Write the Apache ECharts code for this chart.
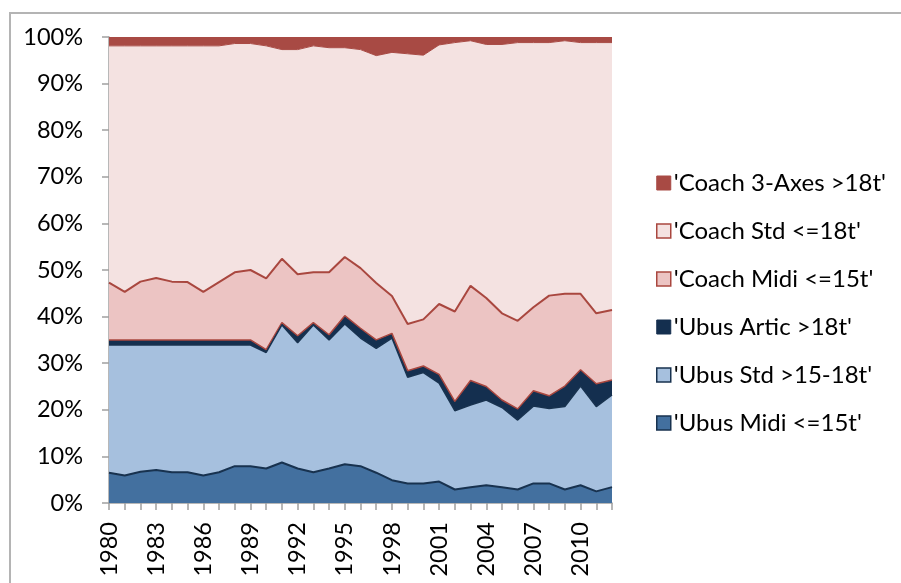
<!DOCTYPE html>
<html>
<head>
<meta charset="utf-8">
<script src="https://cdn.jsdelivr.net/npm/echarts@6/dist/echarts.min.js"></script>
<style>
  html, body { margin: 0; padding: 0; background: #fff; overflow: hidden; }
  #frame { position: absolute; left: 9px; top: 12px; width: 1000px; height: 700px;
           border-left: 2px solid #b4b4b4; border-top: 2px solid #b4b4b4; }
  #chart { position: absolute; left: 0; top: 0; width: 901px; height: 583px; }
</style>
</head>
<body>
<div id="frame"></div>
<div id="chart"></div>
<script>
  // years on the x axis
  var years = [];
  for (var y = 1980; y <= 2012; y++) years.push(String(y));

  // shares in percent
  var ubusMidi = [6.5, 5.9, 6.7, 7.1, 6.6, 6.6, 5.9, 6.6, 7.9, 7.9, 7.4, 8.7, 7.4, 6.6, 7.4, 8.3, 7.9,
    6.5, 4.9, 4.2, 4.2, 4.6, 2.9, 3.4, 3.8, 3.4, 2.9, 4.2, 4.2, 2.9, 3.8, 2.5, 3.4];
  var ubusStd = [27.4, 28.0, 27.2, 26.8, 27.3, 27.3, 28.0, 27.3, 26.0, 26.0, 24.9, 29.5, 27.0, 31.6, 27.6, 30.1, 27.5,
    26.7, 30.5, 22.8, 23.8, 21.1, 16.9, 17.6, 18.3, 17.1, 14.9, 16.6, 16.1, 17.8, 21.3, 18.2, 19.8];
  var ubusArtic = [1.1, 1.1, 1.1, 1.1, 1.1, 1.1, 1.1, 1.1, 1.1, 1.1, 0.6, 0.5, 1.5, 0.5, 1.1, 1.8, 2.1,
    1.8, 1.0, 1.4, 1.4, 1.9, 2.0, 5.3, 2.9, 1.6, 2.4, 3.3, 2.7, 4.4, 3.5, 4.9, 3.2];
  var coachMidi = [12.3, 10.3, 12.5, 13.3, 12.5, 12.4, 10.3, 12.4, 14.5, 15.0, 15.3, 13.7, 13.2, 10.8, 13.4, 12.6, 12.9,
    12.2, 8.0, 10.0, 10.0, 15.1, 19.3, 20.3, 19.0, 18.6, 18.9, 17.9, 21.5, 19.8, 16.3, 15.1, 15.0];
  var coachStd = [50.8, 52.8, 50.6, 49.8, 50.6, 50.7, 52.8, 50.7, 49.1, 48.6, 49.9, 44.9, 48.2, 48.6, 48.2, 44.9, 46.9,
    48.8, 52.3, 58.0, 56.7, 55.6, 57.7, 52.6, 54.4, 57.7, 59.7, 56.8, 54.3, 54.3, 53.9, 58.1, 57.4];
  var coach3Axes = [1.9, 1.9, 1.9, 1.9, 1.9, 1.9, 1.9, 1.9, 1.4, 1.4, 1.9, 2.7, 2.7, 1.9, 2.3, 2.3, 2.7,
    4.0, 3.3, 3.6, 3.9, 1.7, 1.2, 0.8, 1.6, 1.6, 1.2, 1.2, 1.2, 0.8, 1.2, 1.2, 1.2];

  var yTicks = ['0%', '10%', '20%', '30%', '40%', '50%', '60%', '70%', '80%', '90%', '100%'];

  var FONT = 'Lato';
  var RED_LINE = '#a9473f';
  var NAVY_LINE = '#18324f';

  function area(name, data, fill, lineColor, lineWidth, z) {
    return {
      name: name,
      type: 'line',
      stack: 'all',
      data: data,
      z: z,
      symbol: 'none',
      smooth: false,
      lineStyle: { color: lineColor, width: lineWidth },
      areaStyle: { color: fill, opacity: 1 },
      itemStyle: { color: fill, borderColor: lineColor },
      emphasis: { disabled: true }
    };
  }

  var chart = echarts.init(document.getElementById('chart'), null, { renderer: 'canvas' });
  chart.setOption({
    animation: false,
    backgroundColor: 'transparent',
    grid: { left: 109, right: 289, top: 37, bottom: 80 },
    legend: {
      orient: 'vertical',
      left: 651,
      top: 166,
      itemWidth: 14,
      itemHeight: 14,
      itemGap: 24,
      icon: 'rect',
      textStyle: { fontFamily: FONT, fontSize: 24, color: '#000', lineHeight: 24, padding: [0, 0, 0, -2] },
      data: [
        { name: "'Coach 3-Axes >18t'", itemStyle: { color: '#a84a44', borderColor: '#a84a44', borderWidth: 1 } },
        { name: "'Coach Std <=18t'", itemStyle: { color: '#f4e2e1', borderColor: RED_LINE, borderWidth: 1.5 } },
        { name: "'Coach Midi <=15t'", itemStyle: { color: '#ecc4c3', borderColor: RED_LINE, borderWidth: 1.5 } },
        { name: "'Ubus Artic >18t'", itemStyle: { color: '#142f4f', borderColor: '#142f4f', borderWidth: 1 } },
        { name: "'Ubus Std >15-18t'", itemStyle: { color: '#a6c0de', borderColor: NAVY_LINE, borderWidth: 1.5 } },
        { name: "'Ubus Midi <=15t'", itemStyle: { color: '#43709f', borderColor: NAVY_LINE, borderWidth: 1.5 } }
      ]
    },
    xAxis: {
      type: 'category',
      data: years,
      boundaryGap: false,
      axisLine: { lineStyle: { color: '#a0a0a0', width: 1.5 } },
      axisTick: { show: true, interval: 0, length: 7, lineStyle: { color: '#a0a0a0', width: 1.5 } },
      axisLabel: {
        interval: 2, rotate: 90, margin: 19,
        fontFamily: FONT, fontSize: 23.5, color: '#000'
      },
      splitLine: { show: false }
    },
    yAxis: {
      type: 'value',
      min: 0, max: 100, interval: 10,
      axisLine: { show: true, lineStyle: { color: '#a0a0a0', width: 1.5 } },
      axisTick: { show: true, length: 7, lineStyle: { color: '#a0a0a0', width: 1.5 } },
      axisLabel: {
        margin: 26, fontFamily: FONT, fontSize: 23.5, color: '#000',
        formatter: function (v) { return yTicks[Math.round(v / 10)]; }
      },
      splitLine: { show: false }
    },
    series: [
      area("'Ubus Midi <=15t'", ubusMidi, '#43709f', NAVY_LINE, 2, 8),
      area("'Ubus Std >15-18t'", ubusStd, '#a6c0de', NAVY_LINE, 1.5, 7),
      // the red edge here is the lower border of the Coach Midi area
      area("'Ubus Artic >18t'", ubusArtic, '#142f4f', RED_LINE, 1.5, 6),
      area("'Coach Midi <=15t'", coachMidi, '#ecc4c3', RED_LINE, 2, 5),
      area("'Coach Std <=18t'", coachStd, '#f4e2e1', '#a84a44', 1, 4),
      area("'Coach 3-Axes >18t'", coach3Axes, '#a84a44', '#a84a44', 0, 3)
    ]
  });
</script>
</body>
</html>
